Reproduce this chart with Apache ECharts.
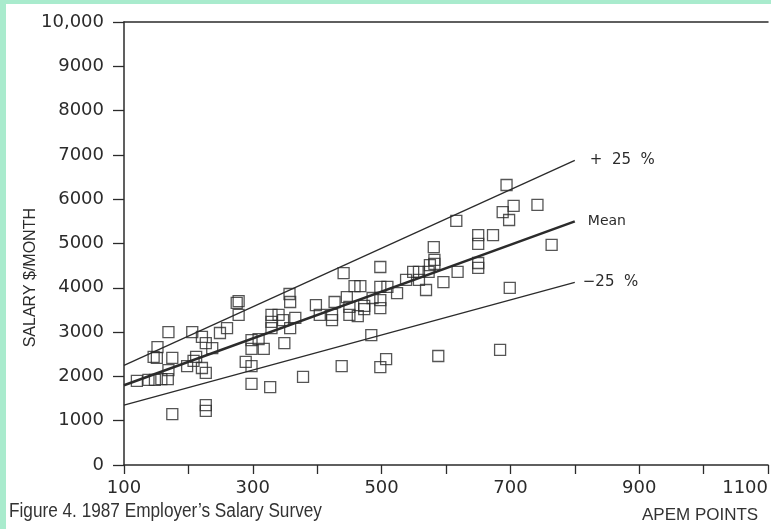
<!DOCTYPE html>
<html>
<head>
<meta charset="utf-8">
<script src="https://cdn.jsdelivr.net/npm/echarts@6/dist/echarts.min.js"></script>
<style>
  html, body { margin: 0; padding: 0; }
  #frame { position: relative; width: 771px; height: 529px; background: #a9ebcd; overflow: hidden; }
  #chart { position: absolute; left: 6px; top: 4px; width: 765px; height: 525px; background: #ffffff; }
</style>
</head>
<body>
<div id="frame"><div id="chart"></div></div>
<script>
// APEM points vs. monthly salary for each surveyed position
const apemPoints = [
  120, 138, 148, 158, 168, 169, 146, 151, 152, 169, 175, 175, 206, 221, 227, 237, 212, 208, 198, 221,
  227, 227, 227, 249, 260, 275, 278, 278, 289, 298, 298, 298, 309, 317, 298, 327, 349, 329, 340, 329,
  329, 347, 358, 366, 357, 358, 378, 398, 404, 427, 423, 423, 446, 450, 450, 458, 467, 463, 473, 473,
  486, 498, 509, 498, 498, 524, 538, 549, 558, 558, 569, 573, 575, 582, 582, 596, 581, 618, 616, 650,
  650, 650, 650, 673, 699, 764, 694, 688, 698, 705, 742, 441, 498, 484, 498, 507, 438, 588, 684
];
const salaries = [
  1900, 1920, 1920, 1940, 1940, 2140, 2440, 2420, 2660, 3000, 2420, 1150, 3000, 2890, 2750, 2640, 2440, 2350, 2230, 2190,
  2080, 1350, 1220, 2980, 3090, 3660, 3700, 3390, 2330, 2230, 2820, 2620, 2840, 2620, 1830, 1760, 2750, 3390, 3390, 3230,
  3090, 3270, 3090, 3320, 3860, 3680, 1990, 3610, 3390, 3680, 3390, 3270, 3790, 3570, 3390, 4040, 4040, 3360, 3590, 3520,
  3770, 4020, 4020, 3720, 3540, 3880, 4180, 4360, 4360, 4180, 3950, 4360, 4510, 4630, 4540, 4130, 4920, 4360, 5510, 5190,
  4990, 4560, 4450, 5190, 4000, 4970, 6320, 5710, 5530, 5850, 5870, 4330, 4470, 2930, 2210, 2390, 2230, 2460, 2600
];

// Fitted mean line and the +/-25 % band, given at its two ends
const lineX = [100, 800];
const meanLine = [1800, 5500];
const upperLine = [2250, 6875];
const lowerLine = [1350, 4125];

const xTicks = { min: 100, max: 1100, step: 100, labelStep: 200 };
const yTicks = { min: 0, max: 10000, step: 1000 };

const ink = '#2b2b2b';
const axisFont = 'DejaVu Sans';

const pairs = (xs, ys) => xs.map((x, i) => [x, ys[i]]);

function bandLine(name, ys, width, label, dist, size) {
  return {
    name: name,
    type: 'line',
    data: pairs(lineX, ys),
    showSymbol: false,
    symbol: 'none',
    silent: true,
    lineStyle: { color: ink, width: width },
    endLabel: {
      show: true,
      formatter: label,
      color: ink,
      fontFamily: axisFont,
      fontSize: size,
      distance: dist
    },
    z: 2
  };
}

const chart = echarts.init(document.getElementById('chart'), null, { renderer: 'canvas' });
chart.setOption({
  animation: false,
  backgroundColor: '#ffffff',
  grid: { left: 118, right: 1, top: 18, bottom: 64 },
  xAxis: [{
    type: 'value',
    min: xTicks.min,
    max: xTicks.max,
    interval: xTicks.step,
    axisLine: { lineStyle: { color: ink, width: 1.5 } },
    axisTick: { show: true, length: 9, lineStyle: { color: ink, width: 1.3 } },
    splitLine: { show: false },
    axisLabel: {
      margin: 14,
      color: ink,
      fontFamily: axisFont,
      fontSize: 18,
      alignMaxLabel: 'right',
      formatter: v => ((v - xTicks.min) % xTicks.labelStep === 0 ? String(v) : '')
    }
  }, {
    type: 'value',
    position: 'top',
    min: xTicks.min,
    max: xTicks.max,
    axisLine: { show: true, lineStyle: { color: ink, width: 1.5 } },
    axisTick: { show: false },
    axisLabel: { show: false },
    splitLine: { show: false }
  }],
  yAxis: {
    type: 'value',
    min: yTicks.min,
    max: yTicks.max,
    interval: yTicks.step,
    axisLine: { show: true, lineStyle: { color: ink, width: 1.5 } },
    axisTick: { show: true, length: 11, lineStyle: { color: ink, width: 1.3 } },
    splitLine: { show: false },
    axisLabel: {
      margin: 20,
      color: ink,
      fontFamily: axisFont,
      fontSize: 18,
      formatter: v => (v === 10000 ? '10,000' : String(v))
    }
  },
  graphic: [
    {
      type: 'text',
      left: 17,
      top: 204,
      rotation: Math.PI / 2,
      style: { text: 'SALARY $/MONTH', fill: ink, font: '16px "Liberation Sans"' }
    },
    {
      type: 'text',
      x: 3,
      y: 497,
      scaleX: 0.86,
      style: { text: 'Figure 4. 1987 Employer\u2019s Salary Survey', fill: '#333333', font: '20px "Liberation Sans"' }
    },
    {
      type: 'text',
      left: 636,
      top: 503,
      style: { text: 'APEM POINTS', fill: '#333333', font: '17px "Liberation Sans"' }
    }
  ],
  series: [
    bandLine('+25%', upperLine, 1.3, '+  25  %', 15, 15),
    bandLine('Mean', meanLine, 2.6, 'Mean', 13, 14),
    bandLine('-25%', lowerLine, 1.3, '\u221225  %', 8, 15),
    {
      name: 'Positions',
      type: 'scatter',
      data: pairs(apemPoints, salaries),
      symbol: 'rect',
      symbolSize: 11,
      itemStyle: { color: 'rgba(0,0,0,0)', borderColor: ink, borderWidth: 1.3 },
      z: 3
    }
  ]
});
</script>
</body>
</html>
